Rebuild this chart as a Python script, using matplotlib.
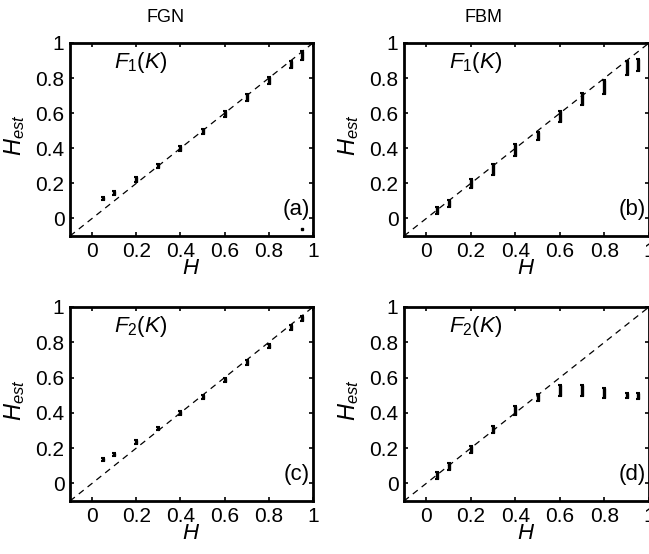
import matplotlib
matplotlib.use("Agg")
import matplotlib.pyplot as plt

plt.rcParams['font.family'] = ['Liberation Sans', 'DejaVu Sans']
plt.rcParams['mathtext.fontset'] = 'custom'
plt.rcParams['mathtext.rm'] = 'Liberation Sans'
plt.rcParams['mathtext.it'] = 'Liberation Sans:italic'

# H values used in every panel
h = [0.05, 0.1, 0.2, 0.3, 0.4, 0.5, 0.6, 0.7, 0.8, 0.9, 0.95]

# (a) FGN, F1(K)
fgn_f1 = [0.115, 0.145, 0.22, 0.30, 0.40, 0.495, 0.595, 0.69, 0.785, 0.88, 0.93]
fgn_f1_err = [0.01, 0.01, 0.015, 0.012, 0.015, 0.015, 0.015, 0.02, 0.02, 0.02, 0.025]
stray_x = [0.95]
stray_y = [-0.06]

# (b) FBM, F1(K)
fbm_f1 = [0.046, 0.085, 0.20, 0.28, 0.39, 0.47, 0.58, 0.68, 0.75, 0.855, 0.875]
fbm_f1_err = [0.02, 0.02, 0.025, 0.03, 0.035, 0.025, 0.03, 0.035, 0.04, 0.04, 0.035]

# (c) FGN, F2(K)
fgn_f2 = [0.135, 0.165, 0.235, 0.31, 0.40, 0.49, 0.585, 0.685, 0.78, 0.885, 0.935]
fgn_f2_err = [0.008, 0.008, 0.012, 0.01, 0.01, 0.012, 0.012, 0.012, 0.012, 0.015, 0.015]

# (d) FBM, F2(K)
fbm_f2 = [0.047, 0.094, 0.194, 0.307, 0.415, 0.485, 0.525, 0.525, 0.513, 0.50, 0.496]
fbm_f2_err = [0.02, 0.02, 0.02, 0.02, 0.025, 0.02, 0.03, 0.03, 0.03, 0.015, 0.015]

ticks = [0, 0.2, 0.4, 0.6, 0.8, 1]
tick_labels = ['0', '0.2', '0.4', '0.6', '0.8', '1']

panels = [
    (fgn_f1, fgn_f1_err, '$F_1(K)$', '(a)'),
    (fbm_f1, fbm_f1_err, '$F_1(K)$', '(b)'),
    (fgn_f2, fgn_f2_err, '$F_2(K)$', '(c)'),
    (fbm_f2, fbm_f2_err, '$F_2(K)$', '(d)'),
]

W, H = 649, 554
fig = plt.figure(figsize=(W / 100, H / 100), dpi=100)

# axes boxes in pixels: left, top, width, height
boxes = [(70, 43, 243, 193), (404, 43, 245, 193),
         (70, 307, 243, 194), (404, 307, 245, 194)]

for (y, err, name, tag), (l, t, w, hh) in zip(panels, boxes):
    ax = fig.add_axes([l / W, 1 - (t + hh) / H, w / W, hh / H])
    ax.plot([-0.1, 1], [-0.1, 1], '--', color='black', lw=0.9, dashes=(5, 4))
    ax.errorbar(h, y, yerr=err, fmt='none', ecolor='black', elinewidth=2.4,
                capsize=1.5, capthick=1.5)
    if tag == '(a)':
        ax.plot(stray_x, stray_y, 's', color='black', ms=1.5)
    ax.set_xlim(-0.1, 1)
    ax.set_ylim(-0.1, 1)
    ax.set_xticks(ticks)
    ax.set_yticks(ticks)
    ax.set_xticklabels(tick_labels)
    ax.set_yticklabels(tick_labels)
    ax.tick_params(direction='in', length=3, width=1.2, top=True, right=True,
                   labelsize=15, pad=4)
    for s in ax.spines.values():
        s.set_linewidth(2)
    ax.text(0.1, 0.86, name, fontsize=16)
    ax.text(0.985, 0.05, tag, fontsize=16, ha='right', va='center')
    ax.set_xlabel('$H$', fontsize=16, labelpad=-2)
    ax.set_ylabel('$H_{est}$', fontsize=17)
    ax.yaxis.set_label_coords(-43 / w, 0.52)

fig.text(166 / W, 1 - 18 / H, 'FGN', fontsize=13, ha='center', va='center')
fig.text(483 / W, 1 - 18 / H, 'FBM', fontsize=13, ha='center', va='center')

fig.savefig('out.png', dpi=100)
